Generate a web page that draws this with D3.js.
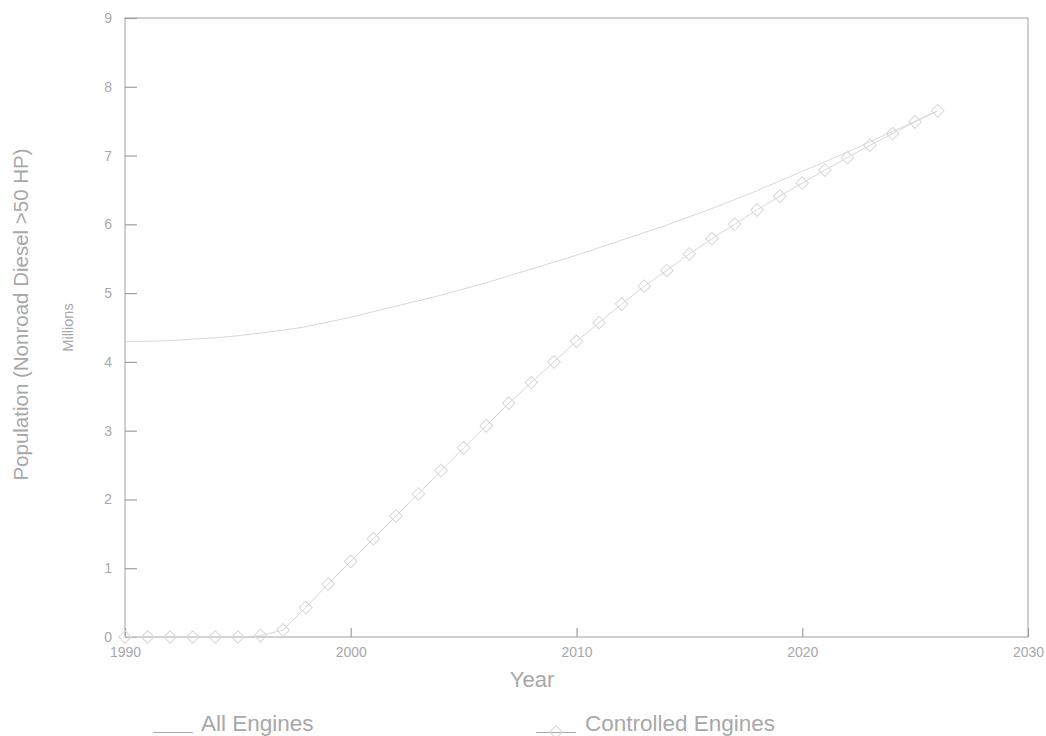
<!DOCTYPE html>
<html>
<head>
<meta charset="utf-8">
<script src="https://cdn.jsdelivr.net/npm/d3@7"></script>
<style>
  html, body { margin: 0; padding: 0; background: #fff; }
  svg { display: block; font-family: "Liberation Sans", Arial, sans-serif; }
</style>
</head>
<body>
<svg id="chart" width="1046" height="736"></svg>
<script>
// Nonroad diesel (>50 HP) engine population, millions
const years = d3.range(1990, 2027);
const allEngines = [
  4.30, 4.30, 4.31, 4.33, 4.35, 4.38, 4.42, 4.46, 4.51, 4.58,
  4.65, 4.73, 4.81, 4.89, 4.97, 5.06, 5.15, 5.25, 5.35, 5.45,
  5.55, 5.66, 5.77, 5.88, 5.99, 6.11, 6.23, 6.36, 6.49, 6.63,
  6.77, 6.91, 7.05, 7.20, 7.35, 7.50, 7.65
];
const controlledEngines = [
  0.00, 0.00, 0.00, 0.00, 0.00, 0.00, 0.02, 0.10, 0.43, 0.77,
  1.10, 1.43, 1.76, 2.08, 2.42, 2.75, 3.07, 3.40, 3.70, 4.00,
  4.30, 4.57, 4.84, 5.10, 5.33, 5.57, 5.79, 6.00, 6.21, 6.41,
  6.60, 6.79, 6.97, 7.15, 7.32, 7.49, 7.65
];
const xTicks = [1990, 2000, 2010, 2020, 2030];
const yTicks = [0, 1, 2, 3, 4, 5, 6, 7, 8, 9];
const seriesNames = ["All Engines", "Controlled Engines"];

const svg = d3.select("#chart");
const plot = { left: 125, right: 1028, top: 18, bottom: 637 };
const axisColor = "#a0a0a0", textColor = "#a8a8a8", lineColor = "#d8d8d8";

const x = d3.scaleLinear().domain([1990, 2030]).range([plot.left, plot.right]);
const y = d3.scaleLinear().domain([0, 9]).range([plot.bottom, plot.top]);

// Frame
svg.append("rect")
  .attr("x", plot.left).attr("y", plot.top)
  .attr("width", plot.right - plot.left).attr("height", plot.bottom - plot.top)
  .attr("fill", "none").attr("stroke", axisColor).attr("stroke-width", 1);

// Y axis: inward ticks
const yAxis = svg.append("g").attr("transform", `translate(${plot.left},0)`)
  .call(d3.axisLeft(y).tickValues(yTicks).tickSize(-12).tickPadding(13).tickFormat(d3.format("d")));
yAxis.select(".domain").remove();
yAxis.selectAll(".tick line").attr("stroke", axisColor).attr("stroke-width", 1.2);
yAxis.selectAll(".tick text").attr("fill", textColor).attr("font-size", 14)
  .attr("font-family", "Liberation Sans, Arial, sans-serif");

// X axis: inward ticks
const xAxis = svg.append("g").attr("transform", `translate(0,${plot.bottom})`)
  .call(d3.axisBottom(x).tickValues(xTicks).tickSize(-9).tickPadding(10).tickFormat(d3.format("d")));
xAxis.select(".domain").remove();
xAxis.selectAll(".tick line").attr("stroke", axisColor).attr("stroke-width", 1.2);
xAxis.selectAll(".tick text").attr("fill", textColor).attr("font-size", 14)
  .attr("font-family", "Liberation Sans, Arial, sans-serif");

// Axis titles
svg.append("text")
  .attr("transform", `translate(28,${(plot.top + plot.bottom) / 2 - 13}) rotate(-90)`)
  .attr("text-anchor", "middle").attr("fill", textColor).attr("font-size", 20.5)
  .text("Population (Nonroad Diesel >50 HP)");
svg.append("text")
  .attr("transform", `translate(73,${(plot.top + plot.bottom) / 2}) rotate(-90)`)
  .attr("text-anchor", "middle").attr("fill", textColor).attr("font-size", 14.5)
  .text("Millions");
svg.append("text")
  .attr("x", 532).attr("y", 687)
  .attr("text-anchor", "middle").attr("fill", textColor).attr("font-size", 22)
  .text("Year");

const line = d3.line().x((d, i) => x(years[i])).y(d => y(d));

// All engines: plain line
svg.append("path").datum(allEngines)
  .attr("d", line).attr("fill", "none")
  .attr("stroke", lineColor).attr("stroke-width", 1);

// Controlled engines: line with diamond markers
svg.append("path").datum(controlledEngines)
  .attr("d", line).attr("fill", "none")
  .attr("stroke", lineColor).attr("stroke-width", 1);

const diamond = d3.symbol().type(d3.symbolSquare).size(80);
svg.append("g").selectAll("path")
  .data(controlledEngines)
  .join("path")
  .attr("d", diamond)
  .attr("transform", (d, i) => `translate(${x(years[i])},${y(d)}) rotate(45)`)
  .attr("fill", "none").attr("stroke", lineColor).attr("stroke-width", 1);

// Legend
const legend = svg.append("g");
legend.append("line").attr("x1", 153).attr("x2", 193).attr("y1", 732.5).attr("y2", 732.5)
  .attr("stroke", textColor).attr("stroke-width", 1);
legend.append("text").attr("x", 201).attr("y", 731)
  .attr("fill", textColor).attr("font-size", 22.5).text(seriesNames[0]);
legend.append("line").attr("x1", 536).attr("x2", 576).attr("y1", 732.5).attr("y2", 732.5)
  .attr("stroke", textColor).attr("stroke-width", 1);
legend.append("path").attr("d", diamond)
  .attr("transform", "translate(556,732) rotate(45)")
  .attr("fill", "none").attr("stroke", lineColor).attr("stroke-width", 1);
legend.append("text").attr("x", 585).attr("y", 731)
  .attr("fill", textColor).attr("font-size", 22.5).text(seriesNames[1]);
</script>
</body>
</html>
